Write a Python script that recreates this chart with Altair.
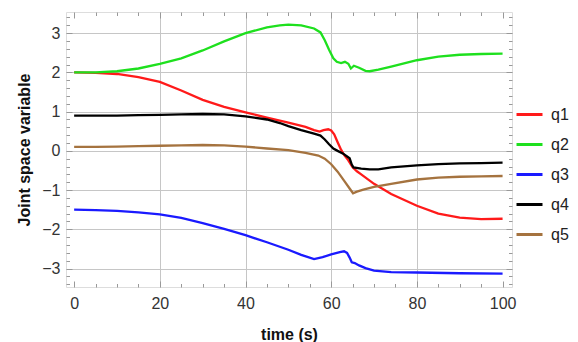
import altair as alt
import pandas as pd

# ---- data ----
t_q1 = [0, 5, 10, 15, 20, 25, 30, 35, 40, 45, 50, 54, 56, 57.3, 58.2, 59.3, 60, 60.7, 61.5, 62.3, 63, 64, 65, 66, 67, 70, 74, 80, 85, 90, 95, 100]
q1 = [2.00, 1.99, 1.96, 1.88, 1.76, 1.54, 1.30, 1.12, 0.98, 0.85, 0.72, 0.61, 0.53, 0.49, 0.53, 0.55, 0.52, 0.42, 0.22, 0.03, -0.10, -0.24, -0.42, -0.52, -0.60, -0.84, -1.10, -1.40, -1.60, -1.70, -1.74, -1.73]

t_q2 = [0, 5, 10, 15, 20, 25, 30, 35, 40, 45, 48, 50, 53, 56, 57.5, 58.5, 59.5, 60.5, 61.3, 62.3, 63.2, 64, 64.6, 65.3, 66.5, 68, 69, 71, 74, 77, 80, 85, 90, 95, 100]
q2 = [2.00, 2.00, 2.03, 2.10, 2.22, 2.36, 2.56, 2.79, 3.00, 3.15, 3.20, 3.22, 3.20, 3.12, 3.02, 2.82, 2.58, 2.36, 2.27, 2.24, 2.27, 2.22, 2.10, 2.17, 2.12, 2.04, 2.03, 2.07, 2.15, 2.23, 2.31, 2.40, 2.45, 2.47, 2.48]

t_q3 = [0, 5, 10, 15, 20, 25, 30, 35, 40, 45, 50, 53, 56, 58, 60, 62, 63, 63.7, 64.3, 64.8, 65.5, 66.5, 68, 70, 74, 80, 90, 100]
q3 = [-1.50, -1.51, -1.53, -1.57, -1.62, -1.71, -1.84, -1.99, -2.15, -2.33, -2.52, -2.65, -2.76, -2.71, -2.64, -2.58, -2.56, -2.60, -2.72, -2.84, -2.86, -2.92, -2.99, -3.05, -3.09, -3.10, -3.12, -3.13]

t_q4 = [0, 5, 10, 15, 20, 25, 30, 35, 40, 45, 48, 50, 53, 56, 57.5, 58.5, 59.5, 60.5, 61.5, 62.8, 64.3, 64.8, 65.2, 67, 69, 71, 74, 80, 85, 90, 95, 100]
q4 = [0.90, 0.90, 0.90, 0.91, 0.92, 0.93, 0.94, 0.93, 0.88, 0.80, 0.71, 0.63, 0.53, 0.44, 0.39, 0.29, 0.17, 0.06, 0.00, -0.07, -0.19, -0.35, -0.42, -0.45, -0.47, -0.47, -0.42, -0.37, -0.34, -0.32, -0.31, -0.30]

t_q5 = [0, 5, 10, 15, 20, 25, 30, 35, 40, 45, 50, 54, 57, 58.5, 60, 61.5, 63, 64.3, 65.1, 66, 67.5, 70, 74, 80, 85, 90, 95, 100]
q5 = [0.10, 0.10, 0.11, 0.12, 0.13, 0.14, 0.15, 0.14, 0.11, 0.06, 0.02, -0.05, -0.12, -0.20, -0.34, -0.53, -0.76, -0.96, -1.08, -1.04, -0.99, -0.92, -0.84, -0.73, -0.68, -0.66, -0.65, -0.64]

series_names = ["q1", "q2", "q3", "q4", "q5"]
series_colors = ["#ff1a1a", "#1ee01e", "#1a1aff", "#000000", "#a5733f"]

x_major = [0, 20, 40, 60, 80, 100]
x_minor = list(range(0, 101, 5))
y_major = [-3, -2, -1, 0, 1, 2, 3]
y_minor = [round(-3.4 + 0.2 * i, 1) for i in range(35)]

rows = []
for name, ts, vs in zip(series_names, [t_q1, t_q2, t_q3, t_q4, t_q5], [q1, q2, q3, q4, q5]):
    for t, v in zip(ts, vs):
        rows.append({"t": t, "value": v, "series": name})
df = pd.DataFrame(rows)

W, H = 446, 275
FONT = "Liberation Sans"

x_scale = alt.Scale(domain=[-1.9, 102.2], nice=False, zero=False)
y_scale = alt.Scale(domain=[-3.47, 3.54], nice=False, zero=False)

base = alt.Chart(df)

main = base.mark_line(strokeWidth=2.3).encode(
    x=alt.X("t:Q", scale=x_scale, axis=alt.Axis(
        orient="bottom", values=x_major, ticks=False, domain=False, grid=True,
        gridOpacity={"condition": {"test": "datum.value > 0 && datum.value < 100", "value": 1}, "value": 0},
        gridColor="#c6c6c6", gridWidth=1,
        labelFont=FONT, labelFontSize=16, labelColor="#333333", labelPadding=8,
        title="time (s)", titleFont=FONT, titleFontSize=16, titleFontWeight="bold",
        titleColor="#111111", titlePadding=15)),
    y=alt.Y("value:Q", scale=y_scale, axis=alt.Axis(
        orient="left", values=y_major, ticks=False, domain=False, grid=True,
        gridColor="#c6c6c6", gridWidth=1,
        labelFont=FONT, labelFontSize=16, labelColor="#333333", labelPadding=6,
        title="Joint space variable", titleFont=FONT, titleFontSize=16,
        titleFontWeight="bold", titleColor="#111111", titlePadding=9)),
    color=alt.Color("series:N", scale=alt.Scale(domain=series_names, range=series_colors),
                    legend=alt.Legend(orient="none", legendX=449, legendY=88, title=None,
                                      symbolType="stroke", symbolSize=676, symbolStrokeWidth=3,
                                      labelFont=FONT, labelFontSize=16, labelColor="#222222",
                                      labelOffset=7, rowPadding=7)),
)

xt_cond = {"condition": {"test": "datum.value % 20 === 0", "value": 6}, "value": 3.5}
yt_cond = {"condition": {"test": "abs(datum.value - round(datum.value)) < 0.001", "value": 6}, "value": 3.5}

def tick_layer(x_orient, y_orient):
    return base.mark_line(opacity=0).encode(
        x=alt.X("t:Q", scale=x_scale, axis=alt.Axis(
            orient=x_orient, offset=-H, values=x_minor, labels=False, domain=False,
            grid=False, title=None, tickSize=xt_cond, tickColor="#999999", tickWidth=1)),
        y=alt.Y("value:Q", scale=y_scale, axis=alt.Axis(
            orient=y_orient, offset=-W, values=y_minor, labels=False, domain=False,
            grid=False, title=None, tickSize=yt_cond, tickColor="#999999", tickWidth=1)),
        detail="series:N",
    )

chart = alt.layer(
    main,
    tick_layer("top", "right"),
    tick_layer("bottom", "left"),
).resolve_axis(x="independent", y="independent").properties(
    width=W, height=H,
    autosize=alt.AutoSizeParams(type="none"),
    padding={"left": 58, "top": 4, "right": 58, "bottom": 55},
).configure_view(stroke="#a8a8a8", strokeWidth=1).configure(background="white")

chart.save("out.html", embed_options={"renderer": "svg", "actions": False})
